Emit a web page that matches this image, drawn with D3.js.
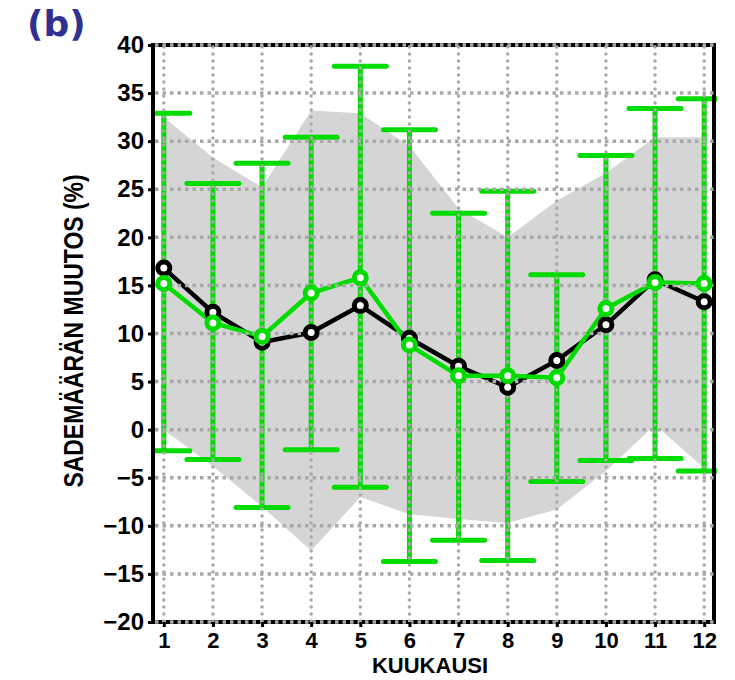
<!DOCTYPE html>
<html>
<head>
<meta charset="utf-8">
<script src="https://cdn.jsdelivr.net/npm/d3@7"></script>
<style>
  body { margin: 0; background: #fff; }
  .tick text { font-family: "Liberation Sans", Arial, sans-serif; font-weight: bold; }
  .lbl { font-family: "Liberation Sans", Arial, sans-serif; font-weight: bold; }
</style>
</head>
<body>
<svg id="chart" width="735" height="680"></svg>
<script>
// months on x axis
const months = [1, 2, 3, 4, 5, 6, 7, 8, 9, 10, 11, 12];
// shaded model range (%)
const bandLow = [0, -3.8, -8, -12.6, -7, -8.8, -9.3, -9.7, -8.3, -4.3, 0.5, -4];
const bandHigh = [32.5, 28.3, 25.2, 33.2, 32.9, 29.5, 23, 20, 23.8, 26.7, 30.4, 30.4];
// black series and green series (%)
const blackVals = [16.8, 12.2, 9.1, 10.1, 12.9, 9.5, 6.6, 4.4, 7.2, 10.9, 15.6, 13.3];
const greenVals = [15.2, 11.1, 9.7, 14.2, 15.8, 8.8, 5.6, 5.6, 5.4, 12.6, 15.3, 15.2];
// green error bars
const errLow = [-2.2, -3.1, -8.1, -2.1, -6.0, -13.7, -11.5, -13.6, -5.4, -3.2, -3.0, -4.3];
const errHigh = [32.9, 25.6, 27.7, 30.4, 37.8, 31.2, 22.5, 24.8, 16.1, 28.5, 33.4, 34.4];
const yTicks = d3.range(-20, 41, 5);

const margin = { left: 153, right: 714, top: 45, bottom: 622 };
const green = "#00dc00";
const gridCol = "#a9a9a9";

const svg = d3.select("#chart");

const x = d3.scaleLinear().domain([0.78, 12.2]).range([margin.left, margin.right]);
const y = d3.scaleLinear().domain([-20, 40]).range([margin.bottom, margin.top]);

svg.append("defs").append("clipPath").attr("id", "plotclip")
  .append("rect")
  .attr("x", margin.left).attr("y", margin.top - 5)
  .attr("width", margin.right - margin.left + 3)
  .attr("height", margin.bottom - margin.top + 10);

const plot = svg.append("g").attr("clip-path", "url(#plotclip)");

// grey range band
const area = d3.area()
  .x((d, i) => x(months[i]))
  .y0((d, i) => y(bandLow[i]))
  .y1((d, i) => y(bandHigh[i]));
plot.append("path").datum(months).attr("d", area).attr("fill", "#d5d5d5");

// error bars
const bars = plot.append("g");
bars.selectAll("line.v").data(months).enter().append("line")
  .attr("x1", d => x(d)).attr("x2", d => x(d))
  .attr("y1", (d, i) => y(errLow[i])).attr("y2", (d, i) => y(errHigh[i]))
  .attr("stroke", green).attr("stroke-width", 5);
[errLow, errHigh].forEach(arr => {
  bars.selectAll(null).data(months).enter().append("line")
    .attr("x1", d => x(d) - 26).attr("x2", d => x(d) + 26)
    .attr("y1", (d, i) => y(arr[i])).attr("y2", (d, i) => y(arr[i]))
    .attr("stroke", green).attr("stroke-width", 5).attr("stroke-linecap", "round");
});

// lines
const line = (vals) => d3.line().x((d, i) => x(months[i])).y((d, i) => y(vals[i]));
plot.append("path").datum(months).attr("d", line(blackVals))
  .attr("fill", "none").attr("stroke", "#000").attr("stroke-width", 4.5);
plot.append("path").datum(months).attr("d", line(greenVals))
  .attr("fill", "none").attr("stroke", green).attr("stroke-width", 4.5);

// frame
svg.append("rect")
  .attr("x", margin.left).attr("y", margin.top)
  .attr("width", margin.right - margin.left).attr("height", margin.bottom - margin.top)
  .attr("fill", "none").attr("stroke", "#000").attr("stroke-width", 4);

// grid (drawn over the bars, as in the original)
const grid = svg.append("g");
grid.selectAll("line.h").data(yTicks).enter().append("line")
  .attr("x1", margin.left + 2).attr("x2", margin.right)
  .attr("y1", d => y(d)).attr("y2", d => y(d))
  .attr("stroke", gridCol).attr("stroke-width", 3.5)
  .attr("stroke-dasharray", "3.5,4");
grid.selectAll("line.v").data(months).enter().append("line")
  .attr("x1", d => x(d)).attr("x2", d => x(d))
  .attr("y1", margin.top + 2).attr("y2", margin.bottom)
  .attr("stroke", gridCol).attr("stroke-width", 3.5)
  .attr("stroke-linecap", "round").attr("stroke-dasharray", "0,7");

// markers
const drawMarks = (vals, col) => {
  svg.append("g").selectAll("circle").data(months).enter().append("circle")
    .attr("cx", d => x(d)).attr("cy", (d, i) => y(vals[i]))
    .attr("r", 6).attr("fill", "#fff")
    .attr("stroke", col).attr("stroke-width", 5);
};
drawMarks(blackVals, "#000");
drawMarks(greenVals, green);

// axes
const yAxis = d3.axisLeft(y).tickValues(yTicks).tickSize(5).tickPadding(4);
const gy = svg.append("g").attr("transform", "translate(" + margin.left + ",0)").call(yAxis);
const xAxis = d3.axisBottom(x).tickValues(months).tickSize(5).tickPadding(5).tickFormat(d3.format("d"));
const gx = svg.append("g").attr("transform", "translate(0," + margin.bottom + ")").call(xAxis);
[gy, gx].forEach(g => {
  g.select(".domain").remove();
  g.selectAll(".tick line").attr("stroke", "#000").attr("stroke-width", 3);
  g.selectAll(".tick text").attr("fill", "#000");
});
gy.selectAll(".tick text").style("font-size", "24px");
gx.selectAll(".tick text").style("font-size", "22px");

svg.append("text").attr("class", "lbl")
  .attr("transform", "translate(83,331) rotate(-90) scale(0.82,1)")
  .attr("text-anchor", "middle")
  .style("font-size", "28px")
  .text("SADEMÄÄRÄN MUUTOS (%)");

svg.append("text").attr("class", "lbl")
  .attr("x", 430).attr("y", 673)
  .attr("text-anchor", "middle")
  .style("font-size", "22px")
  .text("KUUKAUSI");

svg.append("text")
  .attr("x", 27).attr("y", 36)
  .style("font-family", "DejaVu Sans, sans-serif")
  .style("font-weight", "bold")
  .style("font-size", "36px")
  .attr("fill", "#2e3192")
  .text("(b)");
</script>
</body>
</html>
